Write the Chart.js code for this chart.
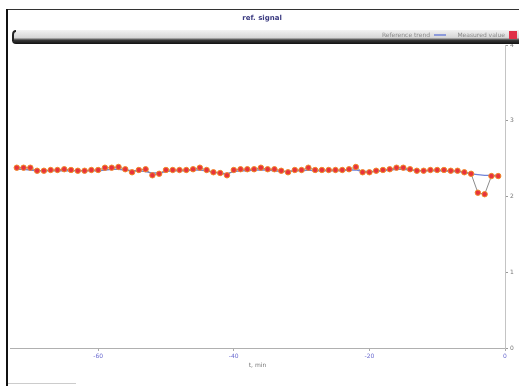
<!DOCTYPE html>
<html>
<head>
<meta charset="utf-8">
<script src="https://cdn.jsdelivr.net/npm/chart.js@4"></script>
<style>
  html, body { margin: 0; padding: 0; background: #fff; }
  canvas { display: block; }
</style>
</head>
<body>
<canvas id="c" width="519" height="386"></canvas>
<script>
// ---- chart data ----
const chartTitle = 'ref. signal';
const axisTitle = 't, min';
const seriesNames = ['Reference trend', 'Measured value'];
const xTicks = [-60, -40, -20, 0];
const yTicks = [0, 1, 2, 3, 4];

const times = [
  -72, -71, -70, -69, -68, -67, -66, -65, -64, -63, -62, -61,
  -60, -59, -58, -57, -56, -55, -54, -53, -52, -51, -50, -49,
  -48, -47, -46, -45, -44, -43, -42, -41, -40, -39, -38, -37,
  -36, -35, -34, -33, -32, -31, -30, -29, -28, -27, -26, -25,
  -24, -23, -22, -21, -20, -19, -18, -17, -16, -15, -14, -13,
  -12, -11, -10, -9, -8, -7, -6, -5, -4, -3, -2, -1
];

const measured = [
  2.38, 2.38, 2.38, 2.34, 2.34, 2.35, 2.35, 2.36, 2.35, 2.34, 2.34, 2.35,
  2.35, 2.38, 2.38, 2.39, 2.36, 2.32, 2.35, 2.36, 2.28, 2.30, 2.35, 2.35,
  2.35, 2.35, 2.36, 2.38, 2.35, 2.32, 2.31, 2.28, 2.35, 2.36, 2.36, 2.36,
  2.38, 2.36, 2.36, 2.34, 2.32, 2.35, 2.35, 2.38, 2.35, 2.35, 2.35, 2.35,
  2.35, 2.36, 2.39, 2.32, 2.32, 2.34, 2.35, 2.36, 2.38, 2.38, 2.36, 2.34,
  2.34, 2.35, 2.35, 2.35, 2.34, 2.34, 2.32, 2.30, 2.05, 2.03, 2.27, 2.27
];

const trend = [
  2.36, 2.36, 2.35, 2.34, 2.34, 2.34, 2.34, 2.34, 2.34, 2.34, 2.34, 2.34,
  2.34, 2.35, 2.36, 2.36, 2.35, 2.34, 2.34, 2.33, 2.31, 2.31, 2.33, 2.34,
  2.34, 2.34, 2.35, 2.35, 2.34, 2.32, 2.31, 2.30, 2.33, 2.34, 2.34, 2.35,
  2.35, 2.35, 2.34, 2.33, 2.33, 2.34, 2.34, 2.35, 2.34, 2.34, 2.34, 2.34,
  2.34, 2.35, 2.35, 2.33, 2.33, 2.33, 2.34, 2.35, 2.36, 2.36, 2.35, 2.34,
  2.34, 2.34, 2.34, 2.34, 2.33, 2.33, 2.32, 2.30, 2.29, 2.28, 2.28, 2.28
];

// ---- page chrome: frame, title strip, legend bar ----
const framePlugin = {
  id: 'frame',
  beforeDraw(chart) {
    const ctx = chart.ctx;
    ctx.save();
    ctx.fillStyle = '#fff';
    ctx.fillRect(0, 0, chart.width, chart.height);
    // outer frame
    ctx.strokeStyle = '#333';
    ctx.lineWidth = 1;
    ctx.beginPath();
    ctx.moveTo(7, 9.5);
    ctx.lineTo(chart.width, 9.5);
    ctx.stroke();
    ctx.strokeStyle = '#111';
    ctx.lineWidth = 2;
    ctx.beginPath();
    ctx.moveTo(7, 9);
    ctx.lineTo(7, chart.height);
    ctx.stroke();
    // small strip at the bottom left
    ctx.strokeStyle = '#ccc';
    ctx.lineWidth = 1;
    ctx.beginPath();
    ctx.moveTo(8, 383.5);
    ctx.lineTo(76, 383.5);
    ctx.stroke();
    ctx.restore();
  },
  afterDraw(chart) {
    const ctx = chart.ctx;
    ctx.save();
    // title
    ctx.fillStyle = '#3a3a80';
    ctx.font = 'bold 7px "DejaVu Sans", sans-serif';
    ctx.textAlign = 'center';
    ctx.textBaseline = 'middle';
    ctx.fillText(chartTitle, 262, 18);

    // legend bar
    const x0 = 12, y0 = 30, x1 = chart.width + 4, y1 = 44;
    const g = ctx.createLinearGradient(0, y0, 0, y1);
    g.addColorStop(0, '#f2f2f2');
    g.addColorStop(0.55, '#d6d6d6');
    g.addColorStop(0.72, '#3a3a3a');
    g.addColorStop(1, '#111');
    ctx.fillStyle = g;
    ctx.beginPath();
    ctx.roundRect(x0, y0, x1 - x0, y1 - y0, 4);
    ctx.fill();
    ctx.strokeStyle = '#222';
    ctx.lineWidth = 2;
    ctx.beginPath();
    ctx.moveTo(x0 + 4, y0 + 1);
    ctx.quadraticCurveTo(x0 + 1, y0 + 1, x0 + 1, y0 + 5);
    ctx.lineTo(x0 + 1, y1 - 3);
    ctx.stroke();

    // legend entries (right to left)
    ctx.font = '6px "DejaVu Sans", sans-serif';
    ctx.textAlign = 'right';
    ctx.fillStyle = '#8a8a8a';
    ctx.fillText(chart.data.datasets[1].label, 505, 35);
    ctx.fillText(chart.data.datasets[0].label, 430, 35);
    // markers
    ctx.fillStyle = '#e03048';
    ctx.fillRect(509, 31, 8, 8);
    ctx.strokeStyle = '#7083d8';
    ctx.lineWidth = 1.5;
    ctx.beginPath();
    ctx.moveTo(434, 35);
    ctx.lineTo(446, 35);
    ctx.stroke();
    ctx.restore();
  }
};

const toPoints = (xs, ys) => xs.map((x, i) => ({ x: x, y: ys[i] }));

new Chart(document.getElementById('c'), {
  type: 'line',
  data: {
    datasets: [
      {
        label: seriesNames[0],
        data: toPoints(times, trend),
        borderColor: '#7083d8',
        borderWidth: 1.3,
        pointRadius: 0,
        tension: 0,
        order: 1
      },
      {
        label: seriesNames[1],
        data: toPoints(times, measured),
        borderColor: '#8c8c8c',
        borderWidth: 1,
        pointRadius: 2.7,
        pointBackgroundColor: '#e8323c',
        pointBorderColor: '#f08a2a',
        pointBorderWidth: 1,
        tension: 0,
        order: 0
      }
    ]
  },
  options: {
    responsive: false,
    animation: false,
    layout: { padding: { left: 10, top: 45, right: 0, bottom: 14 } },
    plugins: {
      legend: { display: false },
      title: { display: false },
      tooltip: { enabled: false }
    },
    scales: {
      x: {
        type: 'linear',
        min: -73,
        max: 0,
        afterBuildTicks(scale) {
          scale.ticks = xTicks.map(v => ({ value: v }));
        },
        afterFit(scale) { scale.height = 24; },
        grid: { drawOnChartArea: false, tickLength: 3, color: '#aaa' },
        border: { color: '#b0b0b0', dash: [4, 2] },
        ticks: {
          color: '#6a6ad0',
          font: { size: 6, family: 'DejaVu Sans' },
          padding: 2,
          maxRotation: 0
        },
        title: {
          display: true,
          text: axisTitle,
          color: '#777',
          font: { size: 6, family: 'DejaVu Sans' },
          padding: { top: 0, bottom: 3 }
        }
      },
      y: {
        position: 'right',
        min: 0,
        max: 4,
        afterBuildTicks(scale) {
          scale.ticks = yTicks.map(v => ({ value: v }));
        },
        afterFit(scale) { scale.width = 14; },
        grid: { drawOnChartArea: false, tickLength: 3, color: '#999' },
        border: { color: '#c4c4c4' },
        ticks: {
          color: '#777',
          font: { size: 6, family: 'DejaVu Sans' },
          padding: 2
        }
      }
    }
  },
  plugins: [framePlugin]
});
</script>
</body>
</html>
